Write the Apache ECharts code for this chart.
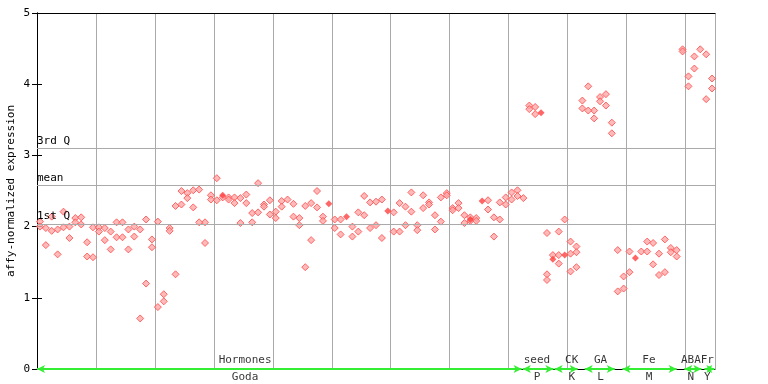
<!DOCTYPE html>
<html>
<head>
<meta charset="utf-8">
<script src="https://cdn.jsdelivr.net/npm/echarts@6/dist/echarts.min.js"></script>
<style>html,body{margin:0;padding:0;background:#fff}#c{width:768px;height:384px}</style>
</head>
<body>
<div id="c"></div>
<script>
// replicate values per sample (index 0..114)
const repA = [
  2.07,1.98,2.14,1.96,2.21,2.00,2.12,2.13,1.78,1.99,
  1.99,1.98,1.93,2.06,2.06,1.96,2.00,1.96,2.10,1.82,
  2.07,1.05,1.98,2.29,2.50,2.47,2.51,2.52,2.06,2.44,
  2.68,2.41,2.41,2.41,2.40,2.45,2.19,2.61,2.31,2.37,
  2.21,2.36,2.38,2.32,2.12,2.29,2.33,2.50,2.14,null,
  2.10,2.10,null,2.00,2.20,2.43,2.34,2.35,2.38,null,
  2.20,2.33,2.28,2.48,2.02,2.44,2.34,2.16,2.41,2.47,
  2.26,2.33,2.16,2.13,2.12,null,2.37,2.13,2.34,2.41,
  2.48,2.51,2.40,3.70,3.68,null,1.91,1.60,1.93,2.10,
  1.79,1.72,3.77,3.97,3.63,3.82,3.86,3.46,1.67,1.30,
  1.65,null,1.65,1.79,1.77,1.62,1.82,1.70,1.67,4.49,
  4.11,4.39,4.49,4.42,4.08
];
const repB = [
  2.00,1.74,1.94,1.61,1.99,1.84,2.06,2.03,1.58,1.57,
  1.93,1.81,1.68,1.85,1.85,1.68,1.86,0.71,1.20,1.71,
  0.87,0.95,1.94,1.33,2.31,2.40,2.27,2.06,1.77,2.38,
  2.37,null,2.38,2.33,2.05,2.33,2.06,2.20,2.28,2.17,
  2.12,2.28,null,2.14,2.02,1.43,1.81,2.27,2.08,null,
  1.98,1.89,null,1.86,1.93,2.16,1.98,2.02,1.84,null,
  1.93,1.93,2.02,2.21,1.95,2.26,2.31,1.96,2.07,2.44,
  2.23,2.26,2.05,2.08,2.08,null,2.24,1.86,2.10,2.31,
  2.38,2.43,null,3.65,3.58,null,1.33,null,1.60,null,
  1.62,1.64,3.66,3.63,3.52,3.76,3.70,3.31,1.09,1.13,
  1.36,null,null,1.65,1.47,1.32,1.36,1.64,1.58,4.46,
  3.97,4.22,null,3.79,3.94
];
const extraIdx = [86,88,90,91];
const extraVal = [1.25,1.48,1.37,1.43];
const meanIdx = [31,49,52,59,73,75,85,87,89,101];
const meanVal = [2.44,2.32,2.14,2.22,2.10,2.36,3.60,1.54,1.60,1.56];

const statNames = ['1st Q','mean','3rd Q'];
const statVals = [2.04,2.58,3.10];

const groupTop = ['Hormones','seed','CK','GA','Fe','ABA','Fr'];
const groupBottom = ['Goda','P','K','L','M','N','Y'];
const groupStart = [0, 82.4, 87.8, 92.9, 99.3, 109.8, 113.2];
const groupEnd = [82.2, 87.6, 91.7, 98.0, 108.5, 112.7, 114.9];
const groupLabelX = [35.3, 84.8, 90.7, 95.6, 103.8, 110.9, 113.7];

const yTicks = [0,1,2,3,4,5];
const nSamples = 115;

const FONT = 'DejaVu Sans Mono';
const pts = [];
repA.forEach((v,i)=>{ if(v!=null) pts.push([i+0.5,v]); });
repB.forEach((v,i)=>{ if(v!=null) pts.push([i+0.5,v]); });
extraIdx.forEach((k,j)=>pts.push([k+0.5,extraVal[j]]));
const means = meanIdx.map((k,j)=>[k+0.5,meanVal[j]]);

const chart = echarts.init(document.getElementById('c'), null, {renderer:'canvas'});
chart.setOption({
  animation:false,
  backgroundColor:'#fff',
  grid:{left:37,right:53,top:13,bottom:15,containLabel:false,outerBoundsMode:'none'},
  xAxis:[{
    type:'value',min:0,max:nSamples,interval:10,
    axisLine:{show:true,lineStyle:{color:'#000',width:1}},
    axisTick:{show:false},axisLabel:{show:false},
    splitLine:{show:true,lineStyle:{color:'#aaaaaa',width:1}}
  },{
    type:'value',position:'top',min:0,max:nSamples,
    axisLine:{show:true,onZero:false,lineStyle:{color:'#000',width:1}},
    axisTick:{show:false},axisLabel:{show:false},splitLine:{show:false}
  }],
  yAxis:[{
    type:'value',min:yTicks[0],max:yTicks[yTicks.length-1],interval:1,
    name:'affy-normalized expression',nameLocation:'middle',nameGap:20,nameMoveOverlap:false,
    nameTextStyle:{fontFamily:FONT,fontSize:11,color:'#000'},
    axisLine:{show:true,lineStyle:{color:'#000',width:1}},
    axisTick:{show:true,inside:true,length:5,lineStyle:{color:'#000'}},
    axisLabel:{fontFamily:FONT,fontSize:11,color:'#000',margin:7},
    splitLine:{show:false}
  },{
    type:'value',position:'right',min:0,max:5,interval:1,
    axisLine:{show:true,lineStyle:{color:'#000',width:1}},
    axisTick:{show:true,inside:true,length:5,lineStyle:{color:'#000'}},
    axisLabel:{show:false},splitLine:{show:false}
  }],
  series:[
    {
      type:'scatter',name:'samples',data:pts,symbol:'diamond',symbolSize:7,
      itemStyle:{color:'#ffa8a8',borderColor:'#ff4848',borderWidth:1},
      markLine:{
        silent:true,symbol:'none',animation:false,
        lineStyle:{color:'#aaaaaa',width:1,type:'solid'},
        label:{show:true,position:'insideStartTop',distance:[0,2],
          fontFamily:FONT,fontSize:11,color:'#000',
          formatter:p=>p.name},
        data:statVals.map((v,i)=>({name:statNames[i],yAxis:v}))
      },
      z:3
    },
    {
      type:'scatter',name:'means',data:means,symbol:'diamond',symbolSize:7,
      itemStyle:{color:'#ff4040'},z:4
    },
    {
      type:'line',name:'groups',data:[],
      markLine:{
        silent:true,animation:false,symbol:['arrow','arrow'],symbolSize:[6,8],
        lineStyle:{color:'#33ee33',width:2,type:'solid'},label:{show:false},
        data:groupStart.map((s,i)=>[{coord:[s,0]},{coord:[groupEnd[i],0]}])
      },
      z:5
    },
    {
      type:'scatter',name:'groupTop',symbolSize:0,silent:true,
      data:groupTop.map((n,i)=>({name:n,value:[groupLabelX[i],0]})),
      label:{show:true,position:'top',distance:3,fontFamily:FONT,fontSize:11,color:'#000',formatter:p=>p.name},
      z:6
    },
    {
      type:'scatter',name:'groupBottom',symbolSize:0,silent:true,
      data:groupBottom.map((n,i)=>({name:n,value:[groupLabelX[i],0]})),
      label:{show:true,position:'bottom',distance:3,fontFamily:FONT,fontSize:11,color:'#000',formatter:p=>p.name},
      z:6
    }
  ]
});
</script>
</body>
</html>
